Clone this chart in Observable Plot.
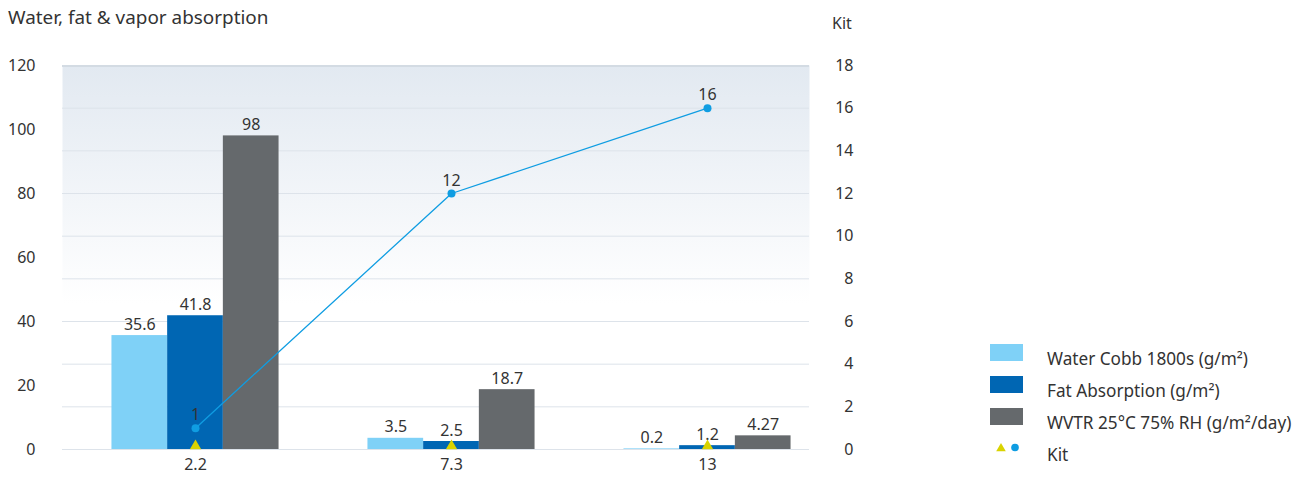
<!DOCTYPE html>
<html><head><meta charset="utf-8">
<script src="https://cdn.jsdelivr.net/npm/d3@7"></script>
<script src="https://cdn.jsdelivr.net/npm/@observablehq/plot@0.6"></script>
<style>
html,body{margin:0;padding:0;background:#fff;}
body{font-family:"Noto Sans",sans-serif;color:#333;}
#wrap{position:relative;width:1306px;height:479px;overflow:hidden;}
#chart{position:absolute;left:0;top:0;}
.lbl{position:absolute;font-size:17.2px;line-height:22px;white-space:nowrap;color:#333;}
.sw{position:absolute;width:33px;height:17px;}
</style>
</head><body>
<div id="wrap">
  <div id="chart"></div>
  <div class="lbl" id="title" style="left:8px;top:6px;font-size:18.9px;">Water, fat &amp; vapor absorption</div>
  <div class="lbl" id="kitTitle" style="left:832px;top:12px;font-size:16px;">Kit</div>
  <div id="legend"></div>
</div>
<script>
// ---- data ----
const categories = ["2.2", "7.3", "13"];
const waterCobb = [35.6, 3.5, 0.2];
const fatAbsorption = [41.8, 2.5, 1.2];
const wvtr = [98, 18.7, 4.27];
const kit = [1, 12, 16];
const kitBase = [0, 0, 0];
const seriesNames = ["Water Cobb 1800s (g/m²)", "Fat Absorption (g/m²)", "WVTR 25°C 75% RH (g/m²/day)"];
const kitName = "Kit";
const leftTicks = [0, 20, 40, 60, 80, 100, 120];
const rightTicks = [0, 2, 4, 6, 8, 10, 12, 14, 16, 18];

// ---- styles ----
const FONT = '"Noto Sans",sans-serif';
const colors = ["#7fd1f7", "#0066b3", "#65696c"];
const kitColor = "#0f9de2";
const triColor = "#d9d300";
const leftMax = 120, rightMax = 18;
const toLeft = k => k * leftMax / rightMax;

const bandPx = (835 - 67) / 3;
const barPx = 55.7;

const seriesValues = [waterCobb, fatAbsorption, wvtr];
const rows = categories.map((c, i) => ({cat: c, kit: toLeft(kit[i]), kitLabel: String(kit[i]), base: kitBase[i]}));

const marks = [
  Plot.frame({fill: "url(#bgGrad)", stroke: null}),
  Plot.ruleY(rightTicks.map(toLeft), {stroke: "#dde3ea", strokeWidth: 1}),
  Plot.ruleY([leftMax], {stroke: "#d3dbe3", strokeWidth: 2, dy: 0.5}),
];
seriesValues.forEach((vals, s) => {
  const data = categories.map((c, i) => ({cat: c, v: vals[i]}));
  const left = bandPx / 2 - barPx * 1.5 + s * barPx;
  const right = bandPx / 2 - barPx * 1.5 + (2 - s) * barPx;
  marks.push(Plot.barY(data, {x: "cat", y: "v", fill: colors[s], insetLeft: left, insetRight: right}));
  marks.push(Plot.text(data, {x: "cat", y: "v", text: d => String(d.v), dx: (s - 1) * barPx, dy: -11, fill: "#333", fontSize: 16}));
});
marks.push(
  Plot.line(rows, {x: "cat", y: "kit", stroke: kitColor, strokeWidth: 1.3}),
  Plot.dot(rows, {x: "cat", y: "kit", r: 4, fill: kitColor}),
  Plot.text(rows, {x: "cat", y: "kit", text: "kitLabel", dy: -13, fill: "#333", fontSize: 16}),
  Plot.dot(rows, {x: "cat", y: "base", symbol: "triangle", r: 4.2, fill: triColor, dy: -3.5}),
  Plot.axisY(leftTicks, {anchor: "left", tickSize: 0, tickPadding: 27, label: null, fontSize: 16}),
  Plot.axisY(rightTicks.map(toLeft), {anchor: "right", tickSize: 0, tickPadding: 44, textAnchor: "end", label: null, tickFormat: d => String(Math.round(d * rightMax / leftMax)), fontSize: 16}),
  Plot.axisX({tickSize: 0, tickPadding: 9, label: null, fontSize: 16})
);

const plot = Plot.plot({
  width: 1306,
  height: 479,
  marginTop: 65,
  marginBottom: 30,
  marginLeft: 62,
  marginRight: 1306 - 809,
  x: {type: "band", domain: categories, range: [67, 835], padding: 0},
  y: {domain: [0, leftMax]},
  style: {fontFamily: FONT, fontSize: "16px", color: "#333", background: "transparent"},
  marks
});

// gradient defs
const defs = d3.create("svg:defs");
const g = defs.append("linearGradient").attr("id", "bgGrad").attr("x1", 0).attr("y1", 0).attr("x2", 0).attr("y2", 1);
g.append("stop").attr("offset", "0%").attr("stop-color", "#e2e9f1");
g.append("stop").attr("offset", "62%").attr("stop-color", "#ffffff");
g.append("stop").attr("offset", "100%").attr("stop-color", "#ffffff");
plot.insertBefore(defs.node(), plot.firstChild);
document.getElementById("chart").appendChild(plot);

// legend
const legend = document.getElementById("legend");
const rowTops = [344, 376, 408];
seriesNames.forEach((name, i) => {
  const sw = document.createElement("div");
  sw.className = "sw";
  sw.style.left = "990px"; sw.style.top = rowTops[i] + "px"; sw.style.background = colors[i];
  legend.appendChild(sw);
  const t = document.createElement("div");
  t.className = "lbl"; t.textContent = name;
  t.style.left = "1047px"; t.style.top = (rowTops[i] + 4) + "px";
  legend.appendChild(t);
});
const icon = d3.create("svg").attr("width", 30).attr("height", 12)
  .style("position", "absolute").style("left", "994px").style("top", "442px");
icon.append("path").attr("d", d3.symbol(d3.symbolTriangle, 40)()).attr("transform", "translate(7,6.5)").attr("fill", triColor);
icon.append("circle").attr("cx", 21).attr("cy", 5.5).attr("r", 3.8).attr("fill", kitColor);
legend.appendChild(icon.node());
const kt = document.createElement("div");
kt.className = "lbl"; kt.textContent = kitName;
kt.style.left = "1047px"; kt.style.top = "444px";
legend.appendChild(kt);
</script>
</body></html>
